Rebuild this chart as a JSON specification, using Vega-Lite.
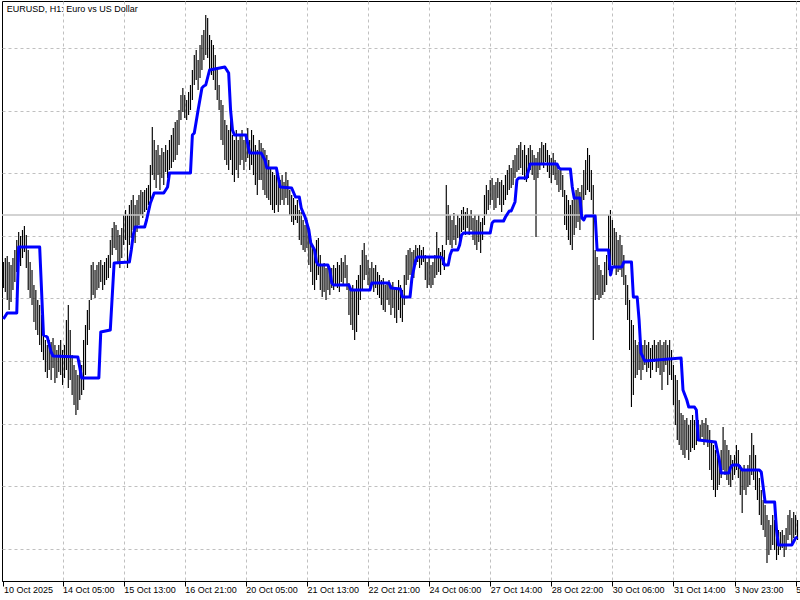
{
  "$schema": "https://vega.github.io/schema/vega-lite/v6.json",
  "description": "EURUSD H1 bar chart with a stepped blue average line, MetaTrader style.",
  "width": 798,
  "height": 580,
  "autosize": {"type": "none"},
  "padding": {"left": 2, "top": 1, "right": 0, "bottom": 19},
  "background": "#ffffff",
  "datasets": {
    "bars": [
      {"i":0,"h":1.1609,"l":1.1596},{"i":1,"h":1.1611,"l":1.1594},{"i":2,"h":1.1612,"l":1.159},{"i":3,"h":1.1609,"l":1.1585},
      {"i":4,"h":1.16075,"l":1.1589},{"i":5,"h":1.1611,"l":1.1595},{"i":6,"h":1.1615,"l":1.1599},{"i":7,"h":1.162,"l":1.1604},
      {"i":8,"h":1.1624,"l":1.1609},{"i":9,"h":1.1622,"l":1.1607},{"i":10,"h":1.1625,"l":1.1611},{"i":11,"h":1.1627,"l":1.1614},
      {"i":12,"h":1.16225,"l":1.1606},{"i":13,"h":1.1615,"l":1.1595},{"i":14,"h":1.1609,"l":1.1591},{"i":15,"h":1.1605,"l":1.15875},
      {"i":16,"h":1.15975,"l":1.1579},{"i":17,"h":1.1595,"l":1.1575},{"i":18,"h":1.159,"l":1.15725},{"i":19,"h":1.15875,"l":1.15675},
      {"i":20,"h":1.15825,"l":1.1564},{"i":21,"h":1.1575,"l":1.156},{"i":22,"h":1.157,"l":1.1554},{"i":23,"h":1.15675,"l":1.1551},
      {"i":24,"h":1.157,"l":1.1555},{"i":25,"h":1.1569,"l":1.155},{"i":26,"h":1.1571,"l":1.1556},{"i":27,"h":1.15675,"l":1.15485},
      {"i":28,"h":1.1565,"l":1.1551},{"i":29,"h":1.15675,"l":1.1554},{"i":30,"h":1.157,"l":1.15525},{"i":31,"h":1.1565,"l":1.15475},
      {"i":32,"h":1.15675,"l":1.1551},{"i":33,"h":1.158,"l":1.1555},{"i":34,"h":1.15875,"l":1.1546},{"i":35,"h":1.1575,"l":1.155},
      {"i":36,"h":1.15625,"l":1.15425},{"i":37,"h":1.15575,"l":1.15375},{"i":38,"h":1.1555,"l":1.15325},{"i":39,"h":1.15525,"l":1.1535},
      {"i":40,"h":1.156,"l":1.154},{"i":41,"h":1.15575,"l":1.15425},{"i":42,"h":1.157,"l":1.1545},{"i":43,"h":1.15775,"l":1.15525},
      {"i":44,"h":1.1585,"l":1.15675},{"i":45,"h":1.159,"l":1.1575},{"i":46,"h":1.16075,"l":1.159},{"i":47,"h":1.1609,"l":1.15925},
      {"i":48,"h":1.1605,"l":1.1591},{"i":49,"h":1.16075,"l":1.1595},{"i":50,"h":1.1609,"l":1.1596},{"i":51,"h":1.161,"l":1.1599},
      {"i":52,"h":1.16075,"l":1.1595},{"i":53,"h":1.1609,"l":1.15975},{"i":54,"h":1.1611,"l":1.16},{"i":55,"h":1.16125,"l":1.1601},
      {"i":56,"h":1.162,"l":1.1606},{"i":57,"h":1.1626,"l":1.16125},{"i":58,"h":1.1629,"l":1.1616},{"i":59,"h":1.16275,"l":1.1615},
      {"i":60,"h":1.1625,"l":1.1609},{"i":61,"h":1.16225,"l":1.1606},{"i":62,"h":1.1626,"l":1.1611},{"i":63,"h":1.16325,"l":1.16175},
      {"i":64,"h":1.1635,"l":1.162},{"i":65,"h":1.16325,"l":1.1606},{"i":66,"h":1.16375,"l":1.16175},{"i":67,"h":1.164,"l":1.1621},
      {"i":68,"h":1.16425,"l":1.1625},{"i":69,"h":1.16375,"l":1.16185},{"i":70,"h":1.164,"l":1.1624},{"i":71,"h":1.16425,"l":1.16275},
      {"i":72,"h":1.1645,"l":1.16325},{"i":73,"h":1.1644,"l":1.1631},{"i":74,"h":1.1645,"l":1.1634},{"i":75,"h":1.1646,"l":1.1635},
      {"i":76,"h":1.16475,"l":1.16375},{"i":77,"h":1.16575,"l":1.164},{"i":78,"h":1.16765,"l":1.16525},{"i":79,"h":1.167,"l":1.165},
      {"i":80,"h":1.1665,"l":1.1646},{"i":81,"h":1.16675,"l":1.16525},{"i":82,"h":1.16625,"l":1.1645},{"i":83,"h":1.1666,"l":1.1651},
      {"i":84,"h":1.1664,"l":1.16475},{"i":85,"h":1.16675,"l":1.1654},{"i":86,"h":1.1665,"l":1.1651},{"i":87,"h":1.167,"l":1.1655},
      {"i":88,"h":1.16725,"l":1.1656},{"i":89,"h":1.1676,"l":1.1659},{"i":90,"h":1.1679,"l":1.166},{"i":91,"h":1.168,"l":1.16625},
      {"i":92,"h":1.1685,"l":1.16675},{"i":93,"h":1.16925,"l":1.168},{"i":94,"h":1.1696,"l":1.1684},{"i":95,"h":1.16925,"l":1.1681},
      {"i":96,"h":1.169,"l":1.168},{"i":97,"h":1.1694,"l":1.16825},{"i":98,"h":1.16975,"l":1.1685},{"i":99,"h":1.1705,"l":1.169},
      {"i":100,"h":1.17125,"l":1.16975},{"i":101,"h":1.1715,"l":1.17},{"i":102,"h":1.171,"l":1.1695},{"i":103,"h":1.17175,"l":1.1701},
      {"i":104,"h":1.17225,"l":1.1705},{"i":105,"h":1.1725,"l":1.171},{"i":106,"h":1.17325,"l":1.17125},{"i":107,"h":1.1731,"l":1.1711},
      {"i":108,"h":1.17225,"l":1.1705},{"i":109,"h":1.172,"l":1.17025},{"i":110,"h":1.17175,"l":1.17},{"i":111,"h":1.17125,"l":1.1695},
      {"i":112,"h":1.1705,"l":1.169},{"i":113,"h":1.16975,"l":1.1685},{"i":114,"h":1.169,"l":1.167},{"i":115,"h":1.16875,"l":1.16675},
      {"i":116,"h":1.168,"l":1.166},{"i":117,"h":1.16775,"l":1.16575},{"i":118,"h":1.1675,"l":1.1655},{"i":119,"h":1.168,"l":1.166},
      {"i":120,"h":1.16725,"l":1.16525},{"i":121,"h":1.167,"l":1.1649},{"i":122,"h":1.1675,"l":1.1655},{"i":123,"h":1.167,"l":1.1651},
      {"i":124,"h":1.16725,"l":1.16575},{"i":125,"h":1.1675,"l":1.166},{"i":126,"h":1.167,"l":1.1655},{"i":127,"h":1.16725,"l":1.1659},
      {"i":128,"h":1.1676,"l":1.1661},{"i":129,"h":1.167,"l":1.1655},{"i":130,"h":1.1675,"l":1.16575},{"i":131,"h":1.16725,"l":1.16525},
      {"i":132,"h":1.16675,"l":1.16475},{"i":133,"h":1.1665,"l":1.16425},{"i":134,"h":1.167,"l":1.165},{"i":135,"h":1.16685,"l":1.165},
      {"i":136,"h":1.1666,"l":1.1645},{"i":137,"h":1.1665,"l":1.16425},{"i":138,"h":1.16625,"l":1.1641},{"i":139,"h":1.166,"l":1.164},
      {"i":140,"h":1.1656,"l":1.16375},{"i":141,"h":1.1654,"l":1.1635},{"i":142,"h":1.16525,"l":1.16335},{"i":143,"h":1.1655,"l":1.16375},
      {"i":144,"h":1.1651,"l":1.1634},{"i":145,"h":1.165,"l":1.16375},{"i":146,"h":1.16525,"l":1.164},{"i":147,"h":1.1649,"l":1.16375},
      {"i":148,"h":1.1654,"l":1.1641},{"i":149,"h":1.165,"l":1.16375},{"i":150,"h":1.1645,"l":1.16325},{"i":151,"h":1.16425,"l":1.1629},
      {"i":152,"h":1.1641,"l":1.16275},{"i":153,"h":1.16375,"l":1.163},{"i":154,"h":1.164,"l":1.16285},{"i":155,"h":1.1635,"l":1.162},
      {"i":156,"h":1.1634,"l":1.16175},{"i":157,"h":1.163,"l":1.1615},{"i":158,"h":1.16275,"l":1.1614},{"i":159,"h":1.163,"l":1.1616},
      {"i":160,"h":1.16225,"l":1.16075},{"i":161,"h":1.162,"l":1.1604},{"i":162,"h":1.16175,"l":1.15975},{"i":163,"h":1.1615,"l":1.1595},
      {"i":164,"h":1.162,"l":1.16},{"i":165,"h":1.1621,"l":1.16025},{"i":166,"h":1.16125,"l":1.1595},{"i":167,"h":1.16075,"l":1.15915},
      {"i":168,"h":1.16085,"l":1.1594},{"i":169,"h":1.1606,"l":1.159},{"i":170,"h":1.16075,"l":1.1595},{"i":171,"h":1.1605,"l":1.15925},
      {"i":172,"h":1.1606,"l":1.1596},{"i":173,"h":1.16075,"l":1.1595},{"i":174,"h":1.1606,"l":1.15975},{"i":175,"h":1.1609,"l":1.1596},
      {"i":176,"h":1.16075,"l":1.1594},{"i":177,"h":1.1611,"l":1.1599},{"i":178,"h":1.1609,"l":1.15975},{"i":179,"h":1.16125,"l":1.1601},
      {"i":180,"h":1.16075,"l":1.1595},{"i":181,"h":1.15985,"l":1.15825},{"i":182,"h":1.1596,"l":1.15775},{"i":183,"h":1.15975,"l":1.1575},
      {"i":184,"h":1.1595,"l":1.157},{"i":185,"h":1.16,"l":1.1574},{"i":186,"h":1.16025,"l":1.15825},{"i":187,"h":1.16075,"l":1.159},
      {"i":188,"h":1.1615,"l":1.1595},{"i":189,"h":1.16185,"l":1.16},{"i":190,"h":1.16125,"l":1.16025},{"i":191,"h":1.161,"l":1.15975},
      {"i":192,"h":1.1606,"l":1.1595},{"i":193,"h":1.1609,"l":1.1599},{"i":194,"h":1.1606,"l":1.1594},{"i":195,"h":1.16075,"l":1.1596},
      {"i":196,"h":1.1604,"l":1.15925},{"i":197,"h":1.16025,"l":1.1591},{"i":198,"h":1.16,"l":1.15875},{"i":199,"h":1.1601,"l":1.1585},
      {"i":200,"h":1.15975,"l":1.1584},{"i":201,"h":1.1599,"l":1.159},{"i":202,"h":1.16,"l":1.15875},{"i":203,"h":1.15975,"l":1.15825},
      {"i":204,"h":1.1599,"l":1.1586},{"i":205,"h":1.1596,"l":1.1581},{"i":206,"h":1.1595,"l":1.15785},{"i":207,"h":1.16,"l":1.1585},
      {"i":208,"h":1.15975,"l":1.1581},{"i":209,"h":1.1595,"l":1.1579},{"i":210,"h":1.16025,"l":1.15875},{"i":211,"h":1.16125,"l":1.15975},
      {"i":212,"h":1.1615,"l":1.16},{"i":213,"h":1.1616,"l":1.16025},{"i":214,"h":1.1614,"l":1.1599},{"i":215,"h":1.1615,"l":1.1601},
      {"i":216,"h":1.16175,"l":1.16075},{"i":217,"h":1.1616,"l":1.1609},{"i":218,"h":1.16175,"l":1.1606},{"i":219,"h":1.1615,"l":1.16075},
      {"i":220,"h":1.16165,"l":1.1609},{"i":221,"h":1.16125,"l":1.16},{"i":222,"h":1.1609,"l":1.1596},{"i":223,"h":1.1611,"l":1.15975},
      {"i":224,"h":1.16075,"l":1.1596},{"i":225,"h":1.1609,"l":1.15975},{"i":226,"h":1.16125,"l":1.1601},{"i":227,"h":1.1624,"l":1.16025},
      {"i":228,"h":1.1616,"l":1.1604},{"i":229,"h":1.1614,"l":1.16025},{"i":230,"h":1.16175,"l":1.16075},{"i":231,"h":1.1615,"l":1.1605},
      {"i":232,"h":1.16475,"l":1.16175},{"i":233,"h":1.16375,"l":1.162},{"i":234,"h":1.16325,"l":1.16175},{"i":235,"h":1.163,"l":1.1616},
      {"i":236,"h":1.16335,"l":1.162},{"i":237,"h":1.16275,"l":1.16175},{"i":238,"h":1.16325,"l":1.1621},{"i":239,"h":1.1631,"l":1.1619},
      {"i":240,"h":1.1635,"l":1.1624},{"i":241,"h":1.16365,"l":1.1625},{"i":242,"h":1.1634,"l":1.16225},{"i":243,"h":1.1636,"l":1.1626},
      {"i":244,"h":1.16325,"l":1.16225},{"i":245,"h":1.1635,"l":1.1625},{"i":246,"h":1.1631,"l":1.162},{"i":247,"h":1.16325,"l":1.16175},
      {"i":248,"h":1.163,"l":1.1615},{"i":249,"h":1.16325,"l":1.1619},{"i":250,"h":1.1629,"l":1.16135},{"i":251,"h":1.1631,"l":1.162},
      {"i":252,"h":1.16425,"l":1.16275},{"i":253,"h":1.16475,"l":1.16325},{"i":254,"h":1.1645,"l":1.1635},{"i":255,"h":1.165,"l":1.16375},
      {"i":256,"h":1.1651,"l":1.164},{"i":257,"h":1.16475,"l":1.1635},{"i":258,"h":1.1649,"l":1.1636},{"i":259,"h":1.1651,"l":1.1641},
      {"i":260,"h":1.1649,"l":1.16375},{"i":261,"h":1.165,"l":1.1634},{"i":262,"h":1.16475,"l":1.16375},{"i":263,"h":1.16525,"l":1.164},
      {"i":264,"h":1.1655,"l":1.16425},{"i":265,"h":1.16575,"l":1.1645},{"i":266,"h":1.1656,"l":1.1646},{"i":267,"h":1.166,"l":1.16475},
      {"i":268,"h":1.16625,"l":1.1651},{"i":269,"h":1.1666,"l":1.1654},{"i":270,"h":1.16675,"l":1.1655},{"i":271,"h":1.1669,"l":1.1656},
      {"i":272,"h":1.1665,"l":1.16525},{"i":273,"h":1.16675,"l":1.165},{"i":274,"h":1.16625,"l":1.1649},{"i":275,"h":1.1666,"l":1.1651},
      {"i":276,"h":1.16675,"l":1.1655},{"i":277,"h":1.1665,"l":1.16525},{"i":278,"h":1.16625,"l":1.165},{"i":279,"h":1.1661,"l":1.16215},
      {"i":280,"h":1.1664,"l":1.1651},{"i":281,"h":1.1666,"l":1.1655},{"i":282,"h":1.1669,"l":1.16575},{"i":283,"h":1.16675,"l":1.1656},
      {"i":284,"h":1.16685,"l":1.1659},{"i":285,"h":1.1665,"l":1.1654},{"i":286,"h":1.16625,"l":1.1651},{"i":287,"h":1.1661,"l":1.16485},
      {"i":288,"h":1.16635,"l":1.16525},{"i":289,"h":1.166,"l":1.165},{"i":290,"h":1.16575,"l":1.16475},{"i":291,"h":1.1655,"l":1.1644},
      {"i":292,"h":1.1656,"l":1.1645},{"i":293,"h":1.16525,"l":1.16415},{"i":294,"h":1.1645,"l":1.16275},{"i":295,"h":1.16425,"l":1.1625},
      {"i":296,"h":1.164,"l":1.162},{"i":297,"h":1.16375,"l":1.16175},{"i":298,"h":1.164,"l":1.1615},{"i":299,"h":1.1641,"l":1.16225},
      {"i":300,"h":1.1645,"l":1.1626},{"i":301,"h":1.1646,"l":1.1629},{"i":302,"h":1.1644,"l":1.1625},{"i":303,"h":1.16475,"l":1.16335},
      {"i":304,"h":1.1655,"l":1.164},{"i":305,"h":1.166,"l":1.16425},{"i":306,"h":1.1666,"l":1.1645},{"i":307,"h":1.16625,"l":1.1644},
      {"i":308,"h":1.1655,"l":1.164},{"i":309,"h":1.16475,"l":1.157},{"i":310,"h":1.1615,"l":1.159},{"i":311,"h":1.16115,"l":1.15925},
      {"i":312,"h":1.16075,"l":1.159},{"i":313,"h":1.1605,"l":1.1591},{"i":314,"h":1.16025,"l":1.15925},{"i":315,"h":1.1609,"l":1.1594},
      {"i":316,"h":1.16125,"l":1.15975},{"i":317,"h":1.16325,"l":1.1605},{"i":318,"h":1.1635,"l":1.1604},{"i":319,"h":1.163,"l":1.16075},
      {"i":320,"h":1.1626,"l":1.1606},{"i":321,"h":1.1624,"l":1.16025},{"i":322,"h":1.162,"l":1.1604},{"i":323,"h":1.16225,"l":1.1605},
      {"i":324,"h":1.16175,"l":1.16015},{"i":325,"h":1.16125,"l":1.15975},{"i":326,"h":1.16025,"l":1.15875},{"i":327,"h":1.15975,"l":1.158},
      {"i":328,"h":1.159,"l":1.1565},{"i":329,"h":1.158,"l":1.15365},{"i":330,"h":1.15775,"l":1.15425},{"i":331,"h":1.157,"l":1.1551},
      {"i":332,"h":1.15675,"l":1.15525},{"i":333,"h":1.1569,"l":1.1555},{"i":334,"h":1.1565,"l":1.155},{"i":335,"h":1.15675,"l":1.1555},
      {"i":336,"h":1.157,"l":1.15575},{"i":337,"h":1.15675,"l":1.1554},{"i":338,"h":1.1569,"l":1.1556},{"i":339,"h":1.1566,"l":1.1551},
      {"i":340,"h":1.15675,"l":1.1555},{"i":341,"h":1.157,"l":1.1559},{"i":342,"h":1.15675,"l":1.1554},{"i":343,"h":1.1569,"l":1.1556},
      {"i":344,"h":1.157,"l":1.15525},{"i":345,"h":1.15675,"l":1.1545},{"i":346,"h":1.1569,"l":1.1554},{"i":347,"h":1.157,"l":1.15575},
      {"i":348,"h":1.15675,"l":1.15475},{"i":349,"h":1.157,"l":1.15525},{"i":350,"h":1.1565,"l":1.155},{"i":351,"h":1.15575,"l":1.15375},
      {"i":352,"h":1.15525,"l":1.15275},{"i":353,"h":1.155,"l":1.152},{"i":354,"h":1.154,"l":1.15175},{"i":355,"h":1.15335,"l":1.1515},
      {"i":356,"h":1.15325,"l":1.15125},{"i":357,"h":1.153,"l":1.1511},{"i":358,"h":1.1531,"l":1.1515},{"i":359,"h":1.15275,"l":1.151},
      {"i":360,"h":1.153,"l":1.1514},{"i":361,"h":1.15325,"l":1.1516},{"i":362,"h":1.153,"l":1.1515},{"i":363,"h":1.1529,"l":1.15175},
      {"i":364,"h":1.153,"l":1.1521},{"i":365,"h":1.15275,"l":1.152},{"i":366,"h":1.153,"l":1.15215},{"i":367,"h":1.15285,"l":1.15175},
      {"i":368,"h":1.1531,"l":1.152},{"i":369,"h":1.15275,"l":1.15165},{"i":370,"h":1.1525,"l":1.1505},{"i":371,"h":1.152,"l":1.15},
      {"i":372,"h":1.15175,"l":1.1495},{"i":373,"h":1.1515,"l":1.14915},{"i":374,"h":1.15125,"l":1.1495},{"i":375,"h":1.151,"l":1.14975},
      {"i":376,"h":1.1515,"l":1.1501},{"i":377,"h":1.15265,"l":1.1505},{"i":378,"h":1.152,"l":1.15025},{"i":379,"h":1.15175,"l":1.15},
      {"i":380,"h":1.1515,"l":1.14975},{"i":381,"h":1.15125,"l":1.14965},{"i":382,"h":1.151,"l":1.15},{"i":383,"h":1.15125,"l":1.15025},
      {"i":384,"h":1.15175,"l":1.1505},{"i":385,"h":1.1515,"l":1.1501},{"i":386,"h":1.15075,"l":1.14925},{"i":387,"h":1.1505,"l":1.14835},
      {"i":388,"h":1.15075,"l":1.1495},{"i":389,"h":1.1505,"l":1.14925},{"i":390,"h":1.15075,"l":1.14965},{"i":391,"h":1.15125,"l":1.14975},
      {"i":392,"h":1.15235,"l":1.15025},{"i":393,"h":1.15175,"l":1.15},{"i":394,"h":1.15125,"l":1.1495},{"i":395,"h":1.1505,"l":1.149},
      {"i":396,"h":1.1501,"l":1.14825},{"i":397,"h":1.1495,"l":1.14775},{"i":398,"h":1.149,"l":1.1475},{"i":399,"h":1.14875,"l":1.14715},
      {"i":400,"h":1.14825,"l":1.14585},{"i":401,"h":1.148,"l":1.14625},{"i":402,"h":1.14775,"l":1.1465},{"i":403,"h":1.14825,"l":1.14675},
      {"i":404,"h":1.148,"l":1.1465},{"i":405,"h":1.1476,"l":1.146},{"i":406,"h":1.1475,"l":1.14625},{"i":407,"h":1.1474,"l":1.1465},
      {"i":408,"h":1.1475,"l":1.1466},{"i":409,"h":1.14725,"l":1.14615},{"i":410,"h":1.1476,"l":1.1465},{"i":411,"h":1.14825,"l":1.147},
      {"i":412,"h":1.1485,"l":1.14725},{"i":413,"h":1.1481,"l":1.14685},{"i":414,"h":1.1484,"l":1.1471},{"i":415,"h":1.14825,"l":1.14725},
      {"i":416,"h":1.148,"l":1.147}
    ],
    "ma": [
      {"i":0,"m":1.15805},{"i":2,"m":1.15835},{"i":7,"m":1.15835},{"i":8,"m":1.16165},{"i":19,"m":1.16165},
      {"i":21,"m":1.15725},{"i":23,"m":1.15715},{"i":25,"m":1.1564},{"i":26,"m":1.1562},{"i":39,"m":1.15615},
      {"i":41,"m":1.1551},{"i":50,"m":1.1551},{"i":51,"m":1.1574},{"i":56,"m":1.1575},{"i":58,"m":1.16085},
      {"i":66,"m":1.1609},{"i":67,"m":1.1615},{"i":68,"m":1.16225},{"i":69,"m":1.16265},{"i":74,"m":1.16265},
      {"i":75,"m":1.163},{"i":77,"m":1.16385},{"i":79,"m":1.16435},{"i":84,"m":1.16435},{"i":86,"m":1.16465},
      {"i":87,"m":1.16535},{"i":98,"m":1.16535},{"i":99,"m":1.16725},{"i":100,"m":1.16735},{"i":102,"m":1.1685},
      {"i":104,"m":1.1696},{"i":105,"m":1.1697},{"i":106,"m":1.16975},{"i":108,"m":1.1705},{"i":116,"m":1.17065},
      {"i":118,"m":1.17035},{"i":119,"m":1.1685},{"i":120,"m":1.1675},{"i":121,"m":1.16725},{"i":127,"m":1.16725},
      {"i":129,"m":1.16635},{"i":135,"m":1.16635},{"i":137,"m":1.166},{"i":138,"m":1.1656},{"i":143,"m":1.1656},
      {"i":145,"m":1.16465},{"i":151,"m":1.1646},{"i":153,"m":1.16415},{"i":155,"m":1.16415},{"i":156,"m":1.1636},
      {"i":158,"m":1.16315},{"i":160,"m":1.1625},{"i":161,"m":1.16185},{"i":163,"m":1.1615},{"i":164,"m":1.1609},
      {"i":165,"m":1.16075},{"i":170,"m":1.16075},{"i":171,"m":1.1605},{"i":172,"m":1.15985},{"i":173,"m":1.15975},
      {"i":181,"m":1.15975},{"i":182,"m":1.1595},{"i":192,"m":1.1595},{"i":193,"m":1.15985},{"i":202,"m":1.15985},
      {"i":203,"m":1.1596},{"i":208,"m":1.15955},{"i":209,"m":1.15915},{"i":213,"m":1.15915},{"i":214,"m":1.1601},
      {"i":216,"m":1.161},{"i":217,"m":1.16115},{"i":229,"m":1.16115},{"i":230,"m":1.1611},{"i":231,"m":1.16075},
      {"i":233,"m":1.16075},{"i":234,"m":1.16125},{"i":235,"m":1.1615},{"i":238,"m":1.1615},{"i":239,"m":1.16175},
      {"i":240,"m":1.16225},{"i":241,"m":1.16235},{"i":255,"m":1.16235},{"i":256,"m":1.16285},{"i":257,"m":1.16295},
      {"i":262,"m":1.16295},{"i":263,"m":1.16315},{"i":265,"m":1.16345},{"i":266,"m":1.16345},{"i":268,"m":1.1639},
      {"i":269,"m":1.165},{"i":270,"m":1.1651},{"i":274,"m":1.1651},{"i":276,"m":1.1658},{"i":290,"m":1.1658},
      {"i":291,"m":1.1656},{"i":292,"m":1.16555},{"i":297,"m":1.16555},{"i":298,"m":1.16465},{"i":299,"m":1.1641},
      {"i":302,"m":1.1641},{"i":303,"m":1.1631},{"i":304,"m":1.163},{"i":305,"m":1.1632},{"i":310,"m":1.1632},
      {"i":311,"m":1.1615},{"i":317,"m":1.1615},{"i":318,"m":1.16025},{"i":319,"m":1.16065},{"i":324,"m":1.16065},
      {"i":325,"m":1.1609},{"i":329,"m":1.1609},{"i":330,"m":1.15915},{"i":332,"m":1.15915},{"i":333,"m":1.158},
      {"i":334,"m":1.15635},{"i":336,"m":1.15595},{"i":355,"m":1.1561},{"i":356,"m":1.1545},{"i":358,"m":1.154},
      {"i":359,"m":1.15365},{"i":362,"m":1.15365},{"i":363,"m":1.1535},{"i":364,"m":1.152},{"i":373,"m":1.1519},
      {"i":375,"m":1.151},{"i":376,"m":1.15035},{"i":380,"m":1.15035},{"i":381,"m":1.15065},{"i":382,"m":1.15075},
      {"i":385,"m":1.15075},{"i":387,"m":1.1505},{"i":396,"m":1.1505},{"i":397,"m":1.1504},{"i":399,"m":1.1489},
      {"i":404,"m":1.1489},{"i":405,"m":1.1475},{"i":406,"m":1.14675},{"i":413,"m":1.14675},{"i":415,"m":1.1471},
      {"i":416,"m":1.14715}
    ],
    "level": [{"p": 1.16325}],
    "caption": [{"t": "EURUSD, H1:  Euro vs US Dollar", "i": 1.75, "p": 1.1734}]
  },
  "layer": [
    {
      "data": {"name": "bars"},
      "mark": {"type": "rule", "color": "#000000", "strokeWidth": 1.15},
      "encoding": {
        "x": {
          "field": "i",
          "type": "quantitative",
          "scale": {"domain": [-0.733, 417.29], "zero": false, "nice": false},
          "axis": {
            "title": null,
            "values": [0, 15, 31, 47, 63, 79, 95, 111, 127, 143, 159, 175, 191, 207, 223, 239, 255, 271, 287, 303, 319, 335, 351, 367, 383, 399, 415],
            "labelExpr": "datum.value === 0 ? '10 Oct 2025' : ((datum.value + 1) % 32 === 0 ? ['14 Oct 05:00','15 Oct 13:00','16 Oct 21:00','20 Oct 05:00','21 Oct 13:00','22 Oct 21:00','24 Oct 06:00','27 Oct 14:00','28 Oct 22:00','30 Oct 06:00','31 Oct 14:00','3 Nov 23:00','5 Nov 07:00'][(datum.value - 31) / 32] : '')",
            "labelAlign": "left",
            "labelBaseline": "top",
            "labelPadding": -1,
            "labelFlush": false,
            "labelOverlap": false,
            "labelBound": false,
            "labelFont": "Liberation Sans",
            "labelFontSize": 9,
            "labelColor": "#000000",
            "domainColor": "#000000",
            "domainWidth": 1,
            "tickColor": "#000000",
            "tickSize": 5,
            "tickOpacity": {"condition": {"test": "datum.value === 0 || (datum.value + 1) % 32 === 0", "value": 1}, "value": 0},
            "grid": true,
            "gridColor": "#c0c0c0",
            "gridDash": [3, 3],
            "gridWidth": 1,
            "gridOpacity": {"condition": {"test": "datum.value === 0", "value": 0}, "value": 1}
          }
        },
        "y": {
          "field": "h",
          "type": "quantitative",
          "scale": {"domain": [1.14495, 1.17395], "zero": false, "nice": false},
          "axis": {
            "title": null,
            "values": [1.173165, 1.1716, 1.170035, 1.16847, 1.166905, 1.16534, 1.163775, 1.16221, 1.160645, 1.15908, 1.157515, 1.15595, 1.154385, 1.15282, 1.151255, 1.14969, 1.148125, 1.14656],
            "labels": false,
            "ticks": false,
            "domain": false,
            "grid": true,
            "gridColor": "#c0c0c0",
            "gridDash": [3, 3],
            "gridWidth": 1
          }
        },
        "y2": {"field": "l"}
      }
    },
    {
      "data": {"name": "level"},
      "mark": {"type": "rule", "color": "#c4c4c4", "strokeWidth": 1.5},
      "encoding": {
        "y": {"field": "p", "type": "quantitative", "axis": {"title": null},
              "scale": {"domain": [1.14495, 1.17395], "zero": false, "nice": false}}
      }
    },
    {
      "data": {"name": "ma"},
      "mark": {"type": "line", "color": "#0000ff", "strokeWidth": 3, "strokeJoin": "round"},
      "encoding": {
        "x": {"field": "i", "type": "quantitative", "axis": {"title": null},
              "scale": {"domain": [-0.733, 417.29], "zero": false, "nice": false}},
        "y": {"field": "m", "type": "quantitative", "axis": {"title": null},
              "scale": {"domain": [1.14495, 1.17395], "zero": false, "nice": false}}
      }
    },
    {
      "data": {"name": "caption"},
      "mark": {"type": "text", "align": "left", "baseline": "alphabetic", "font": "Liberation Sans", "fontSize": 9, "color": "#000000"},
      "encoding": {
        "x": {"field": "i", "type": "quantitative", "axis": {"title": null},
              "scale": {"domain": [-0.733, 417.29], "zero": false, "nice": false}},
        "y": {"field": "p", "type": "quantitative", "axis": {"title": null},
              "scale": {"domain": [1.14495, 1.17395], "zero": false, "nice": false}},
        "text": {"field": "t", "type": "nominal"}
      }
    }
  ],
  "config": {
    "font": "Liberation Sans",
    "view": {"stroke": "#000000", "strokeWidth": 1}
  }
}
